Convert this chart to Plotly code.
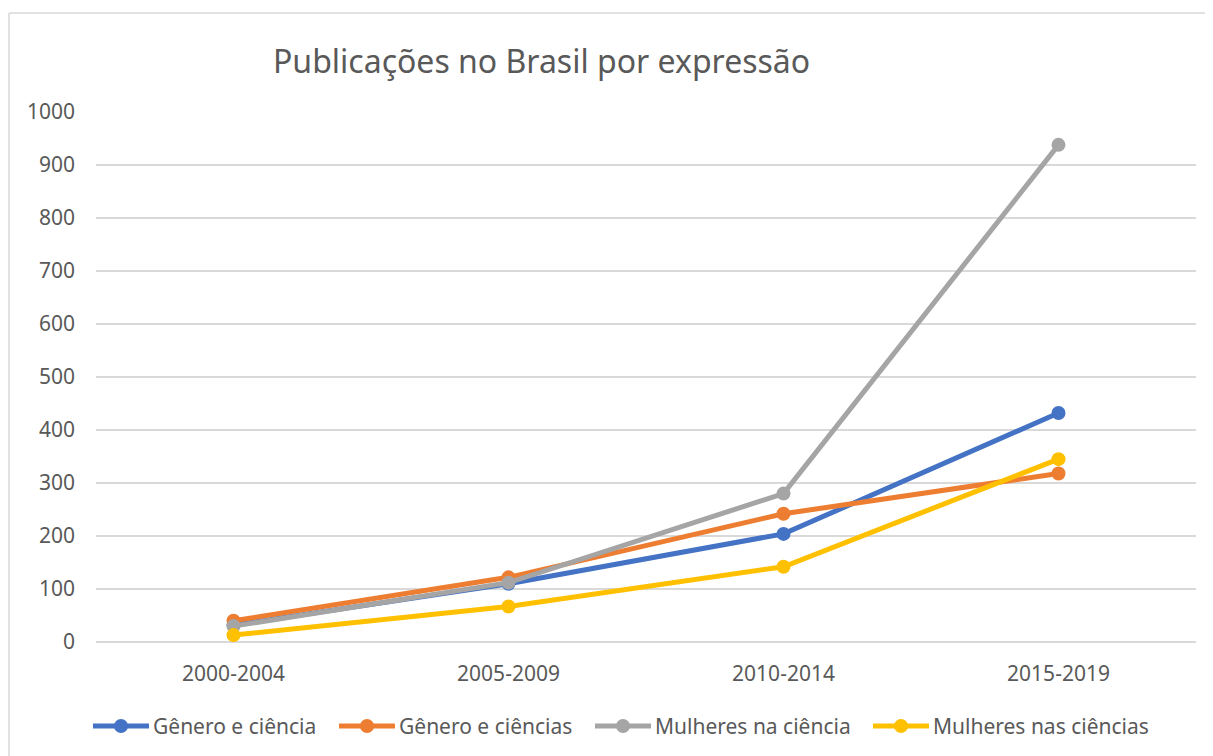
import plotly.graph_objects as go

categories = ["2000-2004", "2005-2009", "2010-2014", "2015-2019"]
genero_ciencia = [32, 110, 204, 432]
genero_ciencias = [40, 122, 242, 318]
mulheres_ciencia = [30, 112, 280, 938]
mulheres_ciencias = [13, 67, 142, 345]

series_names = ["Gênero e ciência", "Gênero e ciências", "Mulheres na ciência", "Mulheres nas ciências"]
series_values = [genero_ciencia, genero_ciencias, mulheres_ciencia, mulheres_ciencias]
series_colors = ["#4472C4", "#ED7D31", "#A5A5A5", "#FFC000"]

FONT = "Noto Sans"
TXT = "#595959"

# page body has an 8px offset; work in window pixels and convert
OFF = 8
W, H = 1213 - OFF, 756 - OFF
PL, PR, PT, PB = 96 - OFF, 1196 - OFF, 112 - OFF, 642 - OFF
PW, PH = PR - PL, PB - PT


def px(xw):
    return (xw - OFF - PL) / PW


def py(yw):
    return (PB - (yw - OFF)) / PH


fig = go.Figure()
for name, vals, col in zip(series_names, series_values, series_colors):
    fig.add_trace(go.Scatter(
        x=categories, y=vals, name=name, mode="lines+markers",
        line=dict(color=col, width=5),
        marker=dict(color=col, size=14),
        showlegend=False,
    ))

# custom legend (line + marker + label), positions in window pixels
legend_x = [93, 339, 595, 873]
LEG_Y = 726
shapes = []
annotations = []
for lx, name, col in zip(legend_x, series_names, series_colors):
    shapes.append(dict(type="line", xref="paper", yref="paper", x0=px(lx), x1=px(lx + 56),
                       y0=py(LEG_Y), y1=py(LEG_Y), line=dict(color=col, width=5)))
    cx = lx + 28
    shapes.append(dict(type="circle", xref="paper", yref="paper", x0=px(cx - 7), x1=px(cx + 7),
                       y0=py(LEG_Y + 7), y1=py(LEG_Y - 7), fillcolor=col, line=dict(width=0)))
    annotations.append(dict(text=name, xref="paper", yref="paper", x=px(lx + 58), y=py(LEG_Y),
                            xanchor="left", yanchor="middle", showarrow=False,
                            font=dict(size=21, color=TXT, family=FONT)))

annotations.append(dict(text="Publicações no Brasil por expressão", xref="paper", yref="paper",
                        x=px(541), y=py(60), xanchor="center", yanchor="middle",
                        showarrow=False, font=dict(size=32, color=TXT, family=FONT)))

shapes += [
    dict(type="line", xref="paper", yref="paper", x0=px(9), x1=px(1220),
         y0=py(13), y1=py(13), line=dict(color="#D9D9D9", width=1.5)),
    dict(type="line", xref="paper", yref="paper", x0=px(9), x1=px(9),
         y0=py(13), y1=py(770), line=dict(color="#D9D9D9", width=1.5)),
]

fig.update_layout(
    width=W, height=H,
    margin=dict(l=PL, r=W - PR, t=PT, b=H - PB),
    paper_bgcolor="white", plot_bgcolor="white",
    font=dict(family=FONT, color=TXT, size=21),
    showlegend=False,
    xaxis=dict(type="category", range=[-0.5, 3.5], showgrid=False, showline=False,
               zeroline=False, ticks="", tickfont=dict(size=21, color=TXT),
               ticklabelstandoff=17),
    yaxis=dict(range=[0, 1000], dtick=100, showgrid=True, gridcolor="#D9D9D9", gridwidth=1.5,
               zeroline=True, zerolinecolor="#D9D9D9", zerolinewidth=1.5, showline=False,
               ticks="", tickfont=dict(size=21, color=TXT), ticklabelstandoff=20),
    annotations=annotations,
    shapes=shapes,
)

fig.write_html("out.html")
